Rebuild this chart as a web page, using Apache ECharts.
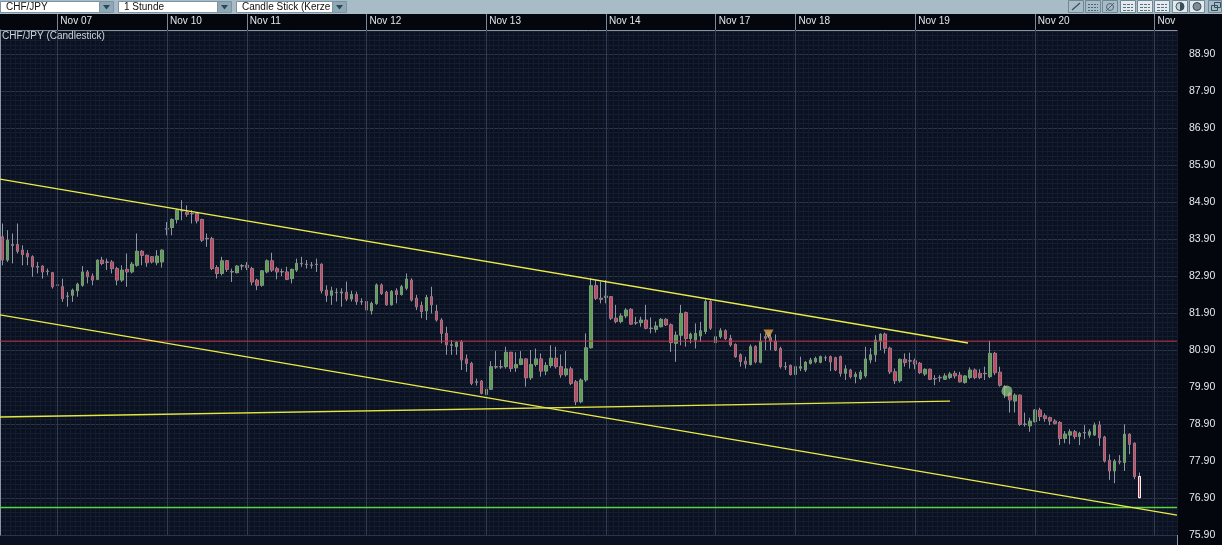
<!DOCTYPE html>
<html>
<head>
<meta charset="UTF-8">
<title>CHF/JPY (Candlestick)</title>
<script src="https://cdn.jsdelivr.net/npm/echarts@6/dist/echarts.min.js"></script>
<style>
    html, body { margin: 0; padding: 0; background: #03070d; }
    #chart { width: 1222px; height: 545px; }
</style>
</head>
<body>
<div id="chart"></div>
<script>
// hourly candles, [open, close, low, high]
var ohlc = [
    [83.96, 83.33, 83.19, 84.32], [83.33, 83.87, 83.28, 84.14], [83.75, 83.73, 83.24, 84.05], [83.75, 83.57, 83.51, 84.32],
    [83.60, 83.48, 83.19, 83.73], [83.51, 83.42, 83.19, 83.60], [83.42, 83.15, 82.88, 83.46], [83.16, 83.14, 82.97, 83.28],
    [83.17, 83.01, 82.83, 83.19], [83.03, 83.02, 82.92, 83.10], [82.99, 82.61, 82.56, 83.01], [82.66, 82.65, 82.52, 82.79],
    [82.61, 82.29, 82.20, 82.83], [82.36, 82.35, 82.07, 82.47], [82.38, 82.52, 82.20, 82.56], [82.50, 82.68, 82.34, 82.72],
    [82.65, 83.01, 82.61, 83.17], [83.01, 82.88, 82.70, 83.06], [82.90, 82.79, 82.65, 82.97], [82.81, 83.33, 82.79, 83.35],
    [83.33, 83.24, 83.19, 83.42], [83.28, 83.27, 83.06, 83.37], [83.28, 83.10, 82.97, 83.33], [83.10, 82.79, 82.65, 83.15],
    [82.79, 83.06, 82.74, 83.19], [83.08, 83.01, 82.61, 83.51], [83.01, 83.22, 82.97, 83.28], [83.19, 83.57, 83.15, 84.05],
    [83.57, 83.46, 83.19, 83.60], [83.46, 83.26, 83.15, 83.48], [83.42, 83.28, 83.24, 83.44], [83.26, 83.44, 83.19, 83.60],
    [83.28, 83.60, 83.13, 83.62],
    // Nov 10
    [84.18, 84.17, 84.00, 84.36], [84.21, 84.43, 84.00, 84.46], [84.43, 84.68, 84.32, 84.72], [84.67, 84.66, 84.41, 84.95],
    [84.63, 84.57, 84.50, 84.81], [84.59, 84.58, 84.32, 84.68], [84.59, 84.39, 84.32, 84.63], [84.43, 83.87, 83.82, 84.45],
    [83.92, 83.91, 83.69, 84.05], [83.91, 83.10, 83.06, 83.96], [83.13, 82.97, 82.83, 83.19], [82.97, 83.31, 82.92, 83.42],
    [83.31, 83.08, 83.01, 83.33], [83.02, 83.01, 82.74, 83.10], [82.99, 83.17, 82.97, 83.19], [83.17, 83.18, 83.06, 83.22],
    // Nov 11
    [83.19, 83.13, 83.06, 83.28], [83.10, 82.74, 82.65, 83.15], [82.79, 82.65, 82.52, 82.83], [82.65, 83.04, 82.61, 83.06],
    [83.01, 83.31, 82.97, 83.35], [83.31, 83.06, 83.01, 83.53], [83.10, 83.01, 82.81, 83.15], [83.02, 83.01, 82.90, 83.10],
    [83.01, 82.81, 82.79, 83.15], [82.83, 83.08, 82.70, 83.10], [83.06, 83.24, 83.01, 83.37], [83.24, 83.23, 83.15, 83.42],
    [83.22, 83.21, 83.10, 83.33], [83.20, 83.19, 83.10, 83.28], [83.22, 83.21, 83.01, 83.37], [83.22, 82.50, 82.43, 83.24],
    [82.52, 82.38, 82.20, 82.65], [82.38, 82.50, 82.12, 82.61], [82.46, 82.45, 82.21, 82.57], [82.44, 82.47, 82.07, 82.57],
    [82.46, 82.28, 82.22, 82.75], [82.28, 82.40, 82.21, 82.50], [82.40, 82.21, 82.12, 82.48], [82.21, 82.20, 82.12, 82.30],
    // Nov 12
    [82.21, 81.98, 81.67, 82.25], [81.96, 82.16, 81.86, 82.21], [82.16, 82.66, 82.12, 82.70], [82.66, 82.43, 82.39, 82.70],
    [82.46, 82.12, 82.10, 82.50], [82.12, 82.48, 82.10, 82.52], [82.50, 82.40, 82.16, 82.57], [82.40, 82.61, 82.37, 82.66],
    [82.57, 82.82, 82.52, 82.97], [82.79, 82.25, 82.21, 82.84], [82.30, 82.07, 81.98, 82.39], [82.10, 81.94, 81.76, 82.21],
    [81.96, 82.32, 81.71, 82.39], [82.34, 82.12, 81.89, 82.61], [81.95, 81.71, 81.67, 82.12], [81.71, 81.35, 81.08, 81.76],
    [81.35, 81.04, 80.77, 81.53], [81.04, 81.03, 80.77, 81.17], [80.99, 81.10, 80.77, 81.14], [81.12, 80.63, 80.36, 81.17],
    [80.66, 80.54, 80.31, 80.78], [80.54, 80.00, 79.95, 80.58], [80.04, 80.03, 79.94, 80.13], [80.06, 79.73, 79.70, 80.09],
    // Nov 13
    [79.70, 79.84, 79.67, 80.30], [79.84, 80.45, 79.82, 80.60], [80.45, 80.44, 80.39, 80.87], [80.45, 80.44, 80.39, 80.63],
    [80.45, 80.84, 80.40, 80.99], [80.84, 80.40, 80.31, 80.85], [80.42, 80.51, 80.31, 80.84], [80.51, 80.66, 80.49, 80.87],
    [80.66, 80.15, 79.91, 80.67], [80.15, 80.51, 80.09, 80.90], [80.51, 80.66, 80.45, 80.94], [80.66, 80.33, 80.18, 80.81],
    [80.33, 80.48, 80.22, 80.57], [80.48, 80.68, 80.42, 81.03], [80.68, 80.45, 80.40, 80.99], [80.45, 80.23, 80.15, 80.78],
    [80.23, 80.39, 80.18, 80.87], [80.39, 80.00, 79.95, 80.45], [80.04, 79.50, 79.41, 80.09], [79.50, 80.09, 79.46, 80.13],
    [80.09, 80.96, 80.04, 81.35], [80.96, 82.64, 80.94, 82.84], [82.64, 82.30, 82.25, 82.79], [82.30, 82.27, 82.16, 82.75],
    // Nov 14
    [82.32, 82.36, 82.16, 82.79], [82.34, 81.76, 81.71, 82.36], [81.76, 81.67, 81.62, 82.12], [81.67, 81.82, 81.62, 81.89],
    [81.82, 81.98, 81.76, 82.03], [82.00, 81.60, 81.58, 82.03], [81.64, 81.63, 81.58, 81.80], [81.64, 81.71, 81.53, 81.80],
    [81.71, 81.49, 81.46, 82.12], [81.49, 81.48, 81.35, 81.78], [81.46, 81.55, 81.37, 81.67], [81.53, 81.73, 81.51, 81.76],
    [81.73, 81.58, 81.55, 81.76], [81.58, 81.10, 80.85, 81.62], [81.08, 81.30, 80.58, 81.40], [81.30, 81.89, 81.03, 82.12],
    [81.91, 81.21, 80.99, 81.94], [81.21, 81.33, 81.08, 81.37], [81.17, 81.35, 80.94, 81.62], [81.28, 81.42, 81.12, 81.66],
    [81.40, 82.21, 81.33, 82.27], [82.21, 81.49, 81.44, 82.27],
    // Nov 17
    [81.10, 81.26, 81.06, 81.42], [81.26, 81.42, 81.21, 81.49], [81.42, 81.21, 81.17, 81.46], [81.21, 81.04, 80.99, 81.31],
    [81.05, 80.72, 80.69, 81.08], [80.77, 80.59, 80.45, 80.81], [80.60, 80.52, 80.40, 80.72], [80.51, 80.99, 80.48, 81.05],
    [80.99, 80.58, 80.54, 81.03], [80.57, 81.14, 80.54, 81.35], [81.26, 81.22, 80.90, 81.35], [81.23, 81.14, 80.90, 81.31],
    [81.14, 80.90, 80.87, 81.32], [80.94, 80.45, 80.40, 80.99], [80.45, 80.44, 80.36, 80.58], [80.48, 80.24, 80.21, 80.51],
    // Nov 18
    [80.24, 80.45, 80.22, 80.54], [80.41, 80.45, 80.33, 80.72], [80.36, 80.57, 80.31, 80.60], [80.54, 80.63, 80.51, 80.69],
    [80.58, 80.67, 80.54, 80.72], [80.57, 80.72, 80.54, 80.75], [80.69, 80.69, 80.60, 80.75], [80.72, 80.58, 80.33, 80.75],
    [80.69, 80.36, 80.33, 80.72], [80.72, 80.27, 80.18, 80.75], [80.27, 80.39, 80.09, 80.49], [80.36, 80.18, 80.13, 80.39],
    [80.18, 80.24, 80.00, 80.31], [80.13, 80.30, 80.09, 80.36], [80.20, 80.66, 80.15, 80.99], [80.63, 80.77, 80.54, 80.95],
    [80.77, 81.17, 80.58, 81.30], [81.15, 81.33, 80.90, 81.35], [81.33, 80.95, 80.81, 81.37], [80.95, 80.31, 80.25, 80.99],
    [80.31, 80.07, 79.98, 80.40], [80.07, 80.65, 80.02, 80.67], [80.65, 80.56, 80.45, 80.81], [80.61, 80.60, 80.40, 80.83],
    // Nov 19
    [80.61, 80.52, 80.38, 80.67], [80.54, 80.29, 80.25, 80.58], [80.25, 80.38, 80.20, 80.40], [80.38, 80.11, 80.09, 80.40],
    [80.13, 80.12, 79.95, 80.22], [80.16, 80.15, 80.04, 80.22], [80.11, 80.20, 80.09, 80.27], [80.16, 80.25, 80.11, 80.31],
    [80.27, 80.20, 80.13, 80.34], [80.22, 80.04, 80.02, 80.31], [80.02, 80.20, 79.99, 80.22], [80.16, 80.36, 80.11, 80.43],
    [80.36, 80.16, 80.11, 80.40], [80.27, 80.16, 80.11, 80.38], [80.27, 80.26, 80.09, 80.45], [80.18, 80.81, 80.14, 81.15],
    [80.81, 80.29, 80.22, 80.85], [80.30, 79.95, 79.91, 80.45], [79.91, 79.88, 79.60, 79.95], [79.73, 79.55, 79.21, 79.77],
    [79.52, 79.68, 79.21, 79.73], [79.68, 78.89, 78.85, 79.70], [78.90, 78.89, 78.83, 79.21], [78.85, 78.98, 78.69, 79.07],
    // Nov 20
    [78.96, 79.28, 78.94, 79.30], [79.28, 79.10, 78.98, 79.34], [79.12, 79.05, 78.96, 79.19], [79.07, 78.98, 78.87, 79.10],
    [78.98, 78.92, 78.89, 79.03], [78.94, 78.51, 78.33, 78.98], [78.51, 78.63, 78.38, 78.71], [78.60, 78.69, 78.35, 78.76],
    [78.69, 78.56, 78.49, 78.74], [78.56, 78.65, 78.33, 78.69], [78.67, 78.66, 78.49, 78.87], [78.60, 78.69, 78.53, 78.76],
    [78.60, 78.87, 78.58, 78.94], [78.87, 78.53, 78.31, 78.98], [78.55, 77.90, 77.86, 78.58], [77.92, 77.63, 77.39, 78.08],
    [77.63, 77.90, 77.30, 77.95], [77.90, 77.87, 77.81, 78.06], [77.86, 78.62, 77.63, 78.89], [78.62, 78.35, 78.08, 78.65],
    [78.38, 77.48, 77.41, 78.40], [77.48, 76.91, 76.89, 77.59]
];

// time axis: one slot per hour, day labels at the first hour of each day
var slotCount = 236;
var dayIndex = [11, 33, 49, 73, 97, 121, 143, 159, 183, 207, 231];
var dayNames = ['Nov 07', 'Nov 10', 'Nov 11', 'Nov 12', 'Nov 13', 'Nov 14', 'Nov 17', 'Nov 18', 'Nov 19', 'Nov 20', 'Nov'];

// drawn levels, trend lines and markers ([slot position, price])
var redLevel = [[0, 81.14], [236, 81.14]];
var greenLevel = [[0, 76.64], [236, 76.64]];
var upperTrend = [[0, 85.52], [194.1, 81.09]];
var lowerTrend = [[0, 81.85], [236, 76.44]];
var flatTrend = [[0, 79.09], [190.5, 79.52]];
var arrowMark = [154.1, 81.33];
var dotMark = [201.9, 79.79];

var slots = [];
for (var i = 0; i < slotCount; i++) slots.push(String(i));

var bodies = ohlc.map(function (d) {
    return [d[0], d[1], Math.min(d[0], d[1]), Math.max(d[0], d[1])];
});
// last (current) candle gets a white outline
var lastBody = bodies.pop();
bodies.push({ value: lastBody, itemStyle: { borderWidth: 1, borderColor0: '#f2f2f2', color0: '#d0364a' } });

var chart = echarts.init(document.getElementById('chart'));

// toolbar ------------------------------------------------------------
var graphics = [
    { type: 'rect', shape: { x: 0, y: 0, width: 1222, height: 14 }, style: { fill: '#a8bcc8' } },
    // plot area continues below the lowest price line
    { type: 'rect', shape: { x: 0, y: 535, width: 1177, height: 10 }, style: { fill: '#0a1120' }, z: -1 },
    { type: 'line', shape: { x1: 1177.5, y1: 535, x2: 1177.5, y2: 545 }, style: { stroke: '#8995a3' } }
];

function dropdown(x, w, label) {
    graphics.push({ type: 'rect', shape: { x: x + 0.5, y: 1.5, width: w, height: 11 }, style: { fill: '#ffffff', stroke: '#7d93a1' } });
    graphics.push({ type: 'text', x: x + 6, y: 7.5, style: { text: label, fill: '#111', fontSize: 10, fontFamily: 'Liberation Sans', verticalAlign: 'middle' } });
    graphics.push({ type: 'rect', shape: { x: x + w + 0.5, y: 1.5, width: 14, height: 11 }, style: { fill: '#8ea8b6', stroke: '#7d93a1' } });
    graphics.push({ type: 'polygon', shape: { points: [[x + w + 4, 5], [x + w + 11, 5], [x + w + 7.5, 9.5]] }, style: { fill: '#2b4856' } });
}
dropdown(0, 99, 'CHF/JPY');
dropdown(118, 99, '1 Stunde');
dropdown(236, 96, 'Candle Stick (Kerze');

function iconBox(x, fill) {
    graphics.push({ type: 'rect', shape: { x: x + 0.5, y: 0.5, width: 15, height: 12 }, style: { fill: fill, stroke: '#6f8796' } });
}
iconBox(1068, '#a8bcc8');
graphics.push({ type: 'line', shape: { x1: 1072, y1: 10, x2: 1080, y2: 3 }, style: { stroke: '#34505e', lineWidth: 1.2 } });
iconBox(1085, '#a8bcc8');
[4, 7, 10].forEach(function (y) {
    graphics.push({ type: 'line', shape: { x1: 1088, y1: y + 0.5, x2: 1098, y2: y + 0.5 }, style: { stroke: '#4b6472', lineDash: [2, 1] } });
});
iconBox(1102, '#a8bcc8');
graphics.push({ type: 'circle', shape: { cx: 1110, cy: 7, r: 3.5 }, style: { fill: 'none', stroke: '#4b6472' } });
graphics.push({ type: 'line', shape: { x1: 1106, y1: 11, x2: 1114, y2: 3 }, style: { stroke: '#4b6472' } });
[1120, 1137, 1154].forEach(function (x) {
    iconBox(x, '#e4ebef');
    [4, 7, 10].forEach(function (y) {
        graphics.push({ type: 'line', shape: { x1: x + 3, y1: y + 0.5, x2: x + 13, y2: y + 0.5 }, style: { stroke: '#58707e', lineDash: [3, 1] } });
    });
});
iconBox(1172, '#e4ebef');
graphics.push({ type: 'circle', shape: { cx: 1180, cy: 6.5, r: 4 }, style: { fill: '#c8d2d8', stroke: '#3a4e5a' } });
graphics.push({ type: 'sector', shape: { cx: 1180, cy: 6.5, r: 4, startAngle: -Math.PI / 2, endAngle: Math.PI / 2 }, style: { fill: '#3a4e5a' } });
iconBox(1189, '#e4ebef');
graphics.push({ type: 'circle', shape: { cx: 1197, cy: 6.5, r: 4 }, style: { fill: '#7d8c96', stroke: '#3a4e5a' } });
graphics.push({ type: 'rect', shape: { x: 1208.5, y: 0.5, width: 13, height: 12 }, style: { fill: '#a8bcc8', stroke: '#6f8796' } });
graphics.push({ type: 'rect', shape: { x: 1211.5, y: 5.5, width: 6, height: 5 }, style: { fill: 'none', stroke: '#34505e' } });
graphics.push({ type: 'rect', shape: { x: 1214.5, y: 2.5, width: 6, height: 5 }, style: { fill: 'none', stroke: '#34505e' } });

// series caption
graphics.push({ type: 'text', x: 2, y: 31, z: 10, style: { text: 'CHF/JPY (Candlestick)', fill: '#cfd6dd', fontSize: 10, fontFamily: 'Liberation Sans' } });

function drawnLine(points, color, width) {
    return {
        type: 'line', xAxisIndex: 1, yAxisIndex: 0, data: points,
        symbol: 'none', silent: true, z: 5,
        itemStyle: { color: color },
        lineStyle: { color: color, width: width, opacity: 1 }
    };
}

var option = {
    backgroundColor: '#03070d',
    animation: false,
    graphic: graphics,
    grid: {
        left: 0, right: 45, top: 30, bottom: 10,
        show: true, backgroundColor: '#0a1120', borderWidth: 0
    },
    xAxis: [
        {
            type: 'category',
            position: 'top',
            data: slots,
            boundaryGap: true,
            axisLine: { show: true, lineStyle: { color: '#8995a3', width: 1 } },
            axisTick: {
                show: true, alignWithLabel: true, length: 16, inside: false,
                interval: function (idx) { return dayIndex.indexOf(idx) >= 0; },
                lineStyle: { color: '#7b8896' }
            },
            axisLabel: {
                show: true,
                interval: function (idx) { return dayIndex.indexOf(idx) >= 0; },
                formatter: function (v, idx) {
                    var k = dayIndex.indexOf(idx);
                    return k >= 0 ? dayNames[k] : '';
                },
                align: 'left', padding: [0, 0, 0, 3], margin: 4,
                color: '#dfe6ed', fontSize: 10, fontFamily: 'Liberation Sans'
            },
            splitLine: { show: false }
        },
        {
            type: 'value',
            position: 'bottom',
            min: 0, max: slotCount, interval: 1,
            axisLine: { show: false }, axisTick: { show: false }, axisLabel: { show: false },
            splitLine: { show: true, lineStyle: { color: '#131b2c', width: 1 } }
        }
    ],
    yAxis: [{
        type: 'value',
        position: 'right',
        min: 75.9, max: 89.55, interval: 1,
        axisLine: { show: true, lineStyle: { color: '#8995a3', width: 1 } },
        axisTick: { show: false },
        axisLabel: {
            showMinLabel: true, showMaxLabel: false,
            formatter: function (v) { return v.toFixed(2); },
            margin: 12, color: '#e6eaef', fontSize: 10.5, fontFamily: 'Liberation Sans'
        },
        splitLine: { show: true, lineStyle: { color: '#2a3549', width: 1 } },
        minorTick: { show: false, splitNumber: 8 },
        minorSplitLine: { show: true, lineStyle: { color: '#151e30', width: 1 } }
    }],
    series: [
        {
            // day separators
            type: 'line', xAxisIndex: 0, data: [], silent: true,
            markLine: {
                silent: true, symbol: ['none', 'none'], label: { show: false },
                lineStyle: { color: '#323d53', width: 1, type: 'solid' },
                data: dayIndex.map(function (i) { return { xAxis: i }; })
            },
            z: 1
        },
        {
            // wicks
            type: 'candlestick', xAxisIndex: 0, data: ohlc, barWidth: 3, silent: true,
            itemStyle: { color: '#8f97a4', color0: '#8f97a4', borderColor: '#8f97a4', borderColor0: '#8f97a4', borderWidth: 1 },
            z: 3
        },
        {
            // coloured bodies
            type: 'candlestick', xAxisIndex: 0, data: bodies, barWidth: 3, silent: true,
            itemStyle: { color: '#5f9f52', color0: '#bd4a60', borderColor: '#5f9f52', borderColor0: '#bd4a60', borderWidth: 0 },
            z: 4
        },
        drawnLine(redLevel, '#c83445', 1),
        drawnLine(greenLevel, '#59d444', 1.5),
        drawnLine(upperTrend, '#ecec48', 1.3),
        drawnLine(lowerTrend, '#ecec48', 1.3),
        drawnLine(flatTrend, '#e6e640', 1.3),
        {
            type: 'scatter', xAxisIndex: 1, data: [arrowMark], silent: true, z: 6,
            symbol: 'triangle', symbolRotate: 180, symbolSize: [10, 9],
            itemStyle: {
                color: new echarts.graphic.LinearGradient(0, 0, 0, 1, [
                    { offset: 0, color: '#f6e08c' }, { offset: 1, color: '#e09a3a' }
                ])
            }
        },
        {
            type: 'scatter', xAxisIndex: 1, data: [dotMark], silent: true, z: 6,
            symbol: 'circle', symbolSize: 11,
            itemStyle: { color: 'rgba(150, 204, 136, 0.92)' }
        }
    ]
};

chart.setOption(option);
</script>
</body>
</html>
